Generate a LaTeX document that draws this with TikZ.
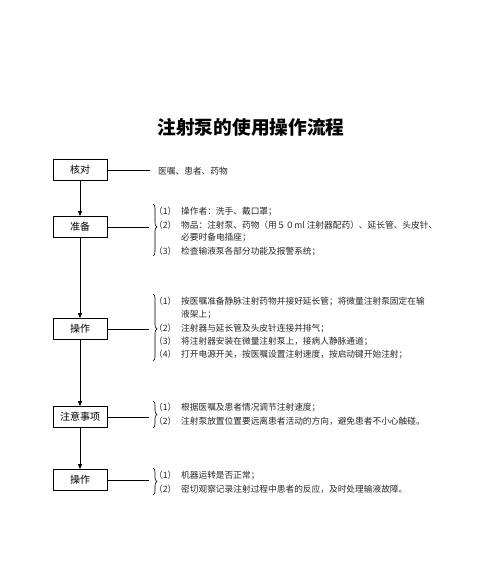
\documentclass[tikz,border=0pt]{standalone}
\usepackage{fontspec}
\setmainfont{Noto Sans CJK SC}
\usetikzlibrary{decorations.pathreplacing,arrows.meta}
\newcommand{\voce}[2]{\makebox[27pt][l]{#1}#2}

\begin{document}
\begin{tikzpicture}[x=1pt,y=-1pt,
    stepbox/.style={draw,line width=0.8pt,minimum width=54pt,minimum height=21pt,inner sep=0pt,font=\fontsize{10}{12}\selectfont},
    itemtext/.style={anchor=west,inner sep=0pt,text=black!85,font=\fontsize{8.7}{10}\selectfont},
    bracegroup/.style={decorate,decoration={brace,amplitude=4pt,aspect=#1},line width=0.6pt},
    bracegroup/.default=0.5,
    flow/.style={-{Triangle[length=5pt,width=4pt]},line width=0.8pt},
    link/.style={line width=0.8pt}]
    \useasboundingbox (0,0) rectangle (500,565);

    % titolo
    \node[font=\fontsize{18.7}{20}\selectfont\bfseries] (titolo) at (251,127) {注射泵的使用操作流程};

    % caselle del flusso
    \node[stepbox] (hedui) at (80,170) {核对};
    \node[stepbox] (zhunbei) at (80,227) {准备};
    \node[stepbox] (caozuoA) at (80,329) {操作};
    \node[stepbox] (zhuyi) at (80,417) {注意事项};
    \node[stepbox] (caozuoB) at (80,480) {操作};

    \draw[flow] (hedui.south) -- (zhunbei.north);
    \draw[flow] (zhunbei.south) -- (caozuoA.north);
    \draw[flow] (caozuoA.south) -- (zhuyi.north);
    \draw[flow] (zhuyi.south) -- (caozuoB.north);

    % graffe
    \coordinate (punta1) at (149,227);
    \coordinate (punta2) at (149,329);
    \coordinate (punta3) at (149,414);
    \coordinate (punta4) at (149,481);
    \draw[bracegroup=0.44] (153,204) -- (153,256);
    \draw[bracegroup=0.52] (153,294) -- (153,361);
    \draw[bracegroup] (153,401) -- (153,428);
    \draw[bracegroup] (153,468) -- (153,495);

    % collegamenti
    \coordinate (fine0) at (150,170);
    \draw[link] (hedui.east) -- (fine0);
    \draw[link] (zhunbei.east) -- (punta1);
    \draw[link] (caozuoA.east) -- (punta2);
    \draw[link] (zhuyi.east) -- (zhuyi.east -| punta3);
    \draw[link] (caozuoB.east) -- (caozuoB.east -| punta4);

    % testi
    \node[itemtext] (t0) at (158,171) {医嘱、患者、药物};

    \node[itemtext] (t11) at (154,211) {\voce{（1）}{操作者：洗手、戴口罩；}};
    \node[itemtext] (t12) at (154,225) {\voce{（2）}{物品：注射泵、药物（用５０ml 注射器配药）、延长管、头皮针、}};
    \node[itemtext] (t12b) at (154,238) {\voce{}{必要时备电插座；}};
    \node[itemtext] (t13) at (154,251) {\voce{（3）}{检查输液泵各部分功能及报警系统；}};

    \node[itemtext] (t21) at (154,301) {\voce{（1）}{按医嘱准备静脉注射药物并接好延长管；将微量注射泵固定在输}};
    \node[itemtext] (t21b) at (154,315) {\voce{}{液架上；}};
    \node[itemtext] (t22) at (154,328) {\voce{（2）}{注射器与延长管及头皮针连接并排气；}};
    \node[itemtext] (t23) at (154,341) {\voce{（3）}{将注射器安装在微量注射泵上，接病人静脉通道；}};
    \node[itemtext] (t24) at (154,354) {\voce{（4）}{打开电源开关，按医嘱设置注射速度，按启动键开始注射；}};

    \node[itemtext] (t31) at (154,407) {\voce{（1）}{根据医嘱及患者情况调节注射速度；}};
    \node[itemtext] (t32) at (154,421) {\voce{（2）}{注射泵放置位置要远离患者活动的方向，避免患者不小心触碰。}};

    \node[itemtext] (t41) at (154,475) {\voce{（1）}{机器运转是否正常；}};
    \node[itemtext] (t42) at (154,489) {\voce{（2）}{密切观察记录注射过程中患者的反应，及时处理输液故障。}};
\end{tikzpicture}
\end{document}
